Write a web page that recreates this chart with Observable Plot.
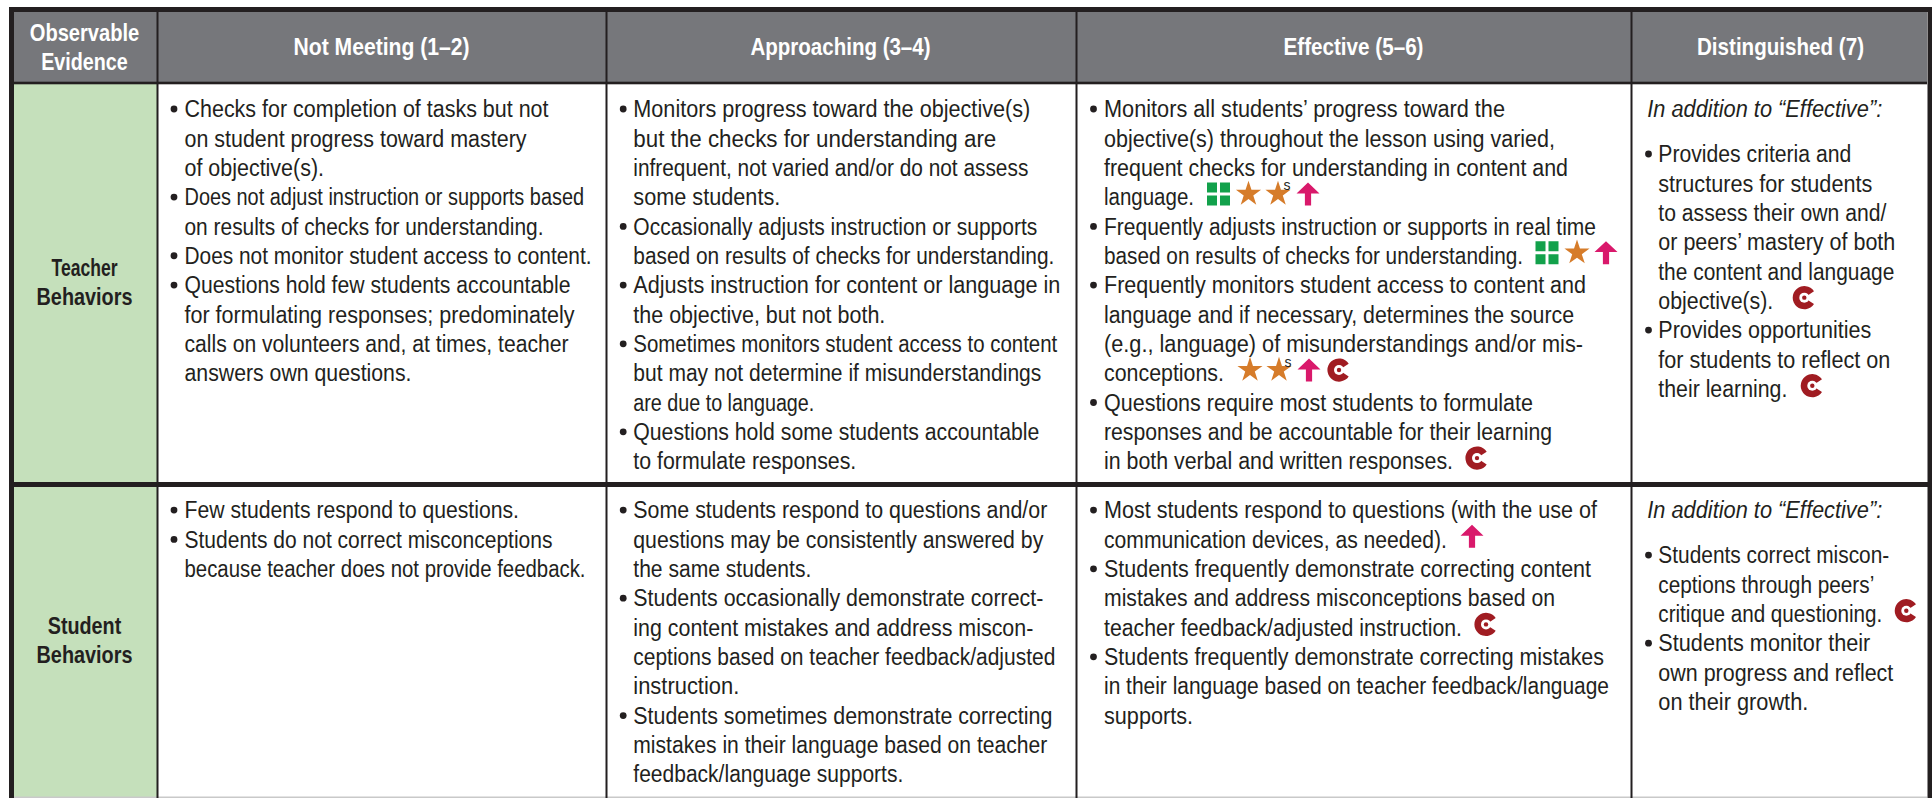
<!DOCTYPE html>
<html><head><meta charset="utf-8">
<script src="https://cdn.jsdelivr.net/npm/d3@7"></script>
<script src="https://cdn.jsdelivr.net/npm/@observablehq/plot@0.6"></script>
<style>
html,body{margin:0;padding:0;background:#fff;overflow:hidden}
svg{display:block}
</style></head><body><div id="chart"></div>
<script>
const columnHeads = ["Not Meeting (1–2)","Approaching (3–4)","Effective (5–6)","Distinguished (7)"];
const cornerHead = ["Observable","Evidence"];
const rowLabels = [["Teacher","Behaviors"],["Student","Behaviors"]];

const teacherNotMeeting = ["• Checks for completion of tasks but not","on student progress toward mastery","of objective(s).","• Does not adjust instruction or supports based","on results of checks for understanding.","• Does not monitor student access to content.","• Questions hold few students accountable","for formulating responses; predominately","calls on volunteers and, at times, teacher","answers own questions."];
const teacherApproaching = ["• Monitors progress toward the objective(s)","but the checks for understanding are","infrequent, not varied and/or do not assess","some students.","• Occasionally adjusts instruction or supports","based on results of checks for understanding.","• Adjusts instruction for content or language in","the objective, but not both.","• Sometimes monitors student access to content","but may not determine if misunderstandings","are due to language.","• Questions hold some students accountable","to formulate responses."];
const teacherEffective = ["• Monitors all students’ progress toward the","objective(s) throughout the lesson using varied,","frequent checks for understanding in content and","language.","• Frequently adjusts instruction or supports in real time","based on results of checks for understanding.","• Frequently monitors student access to content and","language and if necessary, determines the source","(e.g., language) of misunderstandings and/or mis-","conceptions.","• Questions require most students to formulate","responses and be accountable for their learning","in both verbal and written responses."];
const teacherDistinguished = ["• Provides criteria and","structures for students","to assess their own and/","or peers’ mastery of both","the content and language","objective(s).","• Provides opportunities","for students to reflect on","their learning."];
const studentNotMeeting = ["• Few students respond to questions.","• Students do not correct misconceptions","because teacher does not provide feedback."];
const studentApproaching = ["• Some students respond to questions and/or","questions may be consistently answered by","the same students.","• Students occasionally demonstrate correct-","ing content mistakes and address miscon-","ceptions based on teacher feedback/adjusted","instruction.","• Students sometimes demonstrate correcting","mistakes in their language based on teacher","feedback/language supports."];
const studentEffective = ["• Most students respond to questions (with the use of","communication devices, as needed).","• Students frequently demonstrate correcting content","mistakes and address misconceptions based on","teacher feedback/adjusted instruction.","• Students frequently demonstrate correcting mistakes","in their language based on teacher feedback/language","supports."];
const studentDistinguished = ["• Students correct miscon-","ceptions through peers’","critique and questioning.","• Students monitor their","own progress and reflect","on their growth."];
const distinguishedLead = "In addition to “Effective”:";

const bodyCells = [
  [teacherNotMeeting,teacherApproaching,teacherEffective,teacherDistinguished],
  [studentNotMeeting,studentApproaching,studentEffective,studentDistinguished]
];

/* icons: row, column, line they sit on, kind, advance from the column's text start */
const icons = [
 [0,2,3,"grid",114.5],[0,2,3,"star",144.5],[0,2,3,"starS",174],[0,2,3,"arrow",204],
 [0,2,5,"grid",443],[0,2,5,"star",473],[0,2,5,"arrow",502],
 [0,2,9,"star",146],[0,2,9,"starS",175],[0,2,9,"arrow",205],[0,2,9,"see",235],
 [0,2,12,"see",373],
 [0,3,5,"see",146],[0,3,8,"see",154],
 [1,2,1,"arrow",368],[1,2,4,"see",382],
 [1,3,2,"see",248]
];

/* layout: set widths of each typeset line (condensed face emulated by fitting) */
const bodyWidths = [
  [[364,342,139.5,399.6,359,407,386,390,384,227],
   [397,363,395,147,404,421,427,252,424,408,181,406,223],
   [401,451,464,90,492,419,482,470,479,120,429,448,349],
   [193,214,228,237,236,115,213,232,129]],
  [[334.5,368,401],
   [414,410,178,410,400,422,106,419,414,270],
   [493,343,487,451,358,500,505,89],
   [231,216,224,212,235,150]]
];
const headWidths = [176,180,140,167];
const headCenters = [381,840,1353,1780];
const cornerWidths = [109.5,86.6];
const cornerY = [33,62];
const sideWidths = [[66,96],[73.5,96]];
const sideY = [[267.5,297],[626,655]];
const colEdges = [14,157,606,1076,1631,1927];
const rowEdges = [12,82,482,798];
const textLeft = [184,632.8,1103.5,1657.8];
const bulletCenter = [173.5,622.7,1093,1648];
const firstLine = [109.2,510.3];
const lineStep = 29.35;
const leadGap = 45;
const leadWidth = 235;
const ink = "#231f20", grey = "#76777b", green = "#c5e0bb";
const fontFamily = "'Liberation Sans',sans-serif";

const lines = [], bullets = [];
bodyCells.forEach((cols,r)=>cols.forEach((ls,c)=>{
  const base = firstLine[r] + (c===3 ? leadGap : 0);
  ls.forEach((s,i)=>{
    const b = s.startsWith("• ");
    lines.push({x:textLeft[c], y:base+i*lineStep, text:b?s.slice(2):s, w:bodyWidths[r][c][i]});
    if(b) bullets.push({x:bulletCenter[c], y:base+i*lineStep-0.7});
  });
}));
const leads = firstLine.map(y=>({x:bulletCenter[3]-1.3,y,text:distinguishedLead,w:leadWidth}));
const iconPts = icons.map(([r,c,l,kind,dx])=>({
  x:textLeft[c]+dx,
  y:firstLine[r]+(c===3?leadGap:0)+l*lineStep-3.8,
  kind
}));

const heads = columnHeads.map((t,i)=>({x:headCenters[i],y:46.5,text:t,w:headWidths[i]}));
cornerHead.forEach((t,i)=>heads.push({x:84,y:cornerY[i],text:t,w:cornerWidths[i]}));
const sideLabels = rowLabels.flatMap((ls,r)=>ls.map((t,i)=>({x:84,y:sideY[r][i],text:t,w:sideWidths[r][i]})));

const symArrow = {draw(ctx,size){const r=Math.sqrt(size/Math.PI);
  ctx.moveTo(0,-r);ctx.lineTo(r,-r*0.05);ctx.lineTo(r*0.27,-r*0.05);ctx.lineTo(r*0.27,r);ctx.lineTo(-r*0.27,r);ctx.lineTo(-r*0.27,-r*0.05);ctx.lineTo(-r,-r*0.05);ctx.closePath();}};
const symSee = {draw(ctx,size){const r=Math.sqrt(size/Math.PI),a=0.58;
  ctx.moveTo(0,0);
  ctx.lineTo(r*Math.cos(a),-r*Math.sin(a));
  ctx.arc(0,0,r,-a,a,true);
  ctx.closePath();}};
const symGrid = {draw(ctx,size){const r=Math.sqrt(size/Math.PI),g=r*0.13;
  for(const[sx,sy]of[[-1,-1],[1,-1],[-1,1],[1,1]]){
    const x0=sx<0?-r:g,y0=sy<0?-r:g;
    ctx.rect(x0,y0,r-g,r-g);
  }}};

const starPts = iconPts.filter(d=>d.kind==="star"||d.kind==="starS");
const seePts = iconPts.filter(d=>d.kind==="see");

const plot = Plot.plot({
  width:1932,height:798,margin:0,
  x:{type:"linear",domain:[0,1932],range:[0,1932],axis:null},
  y:{type:"linear",domain:[0,798],range:[0,798],axis:null},
  style:{background:"#fff",fontFamily},
  marks:[
    Plot.rect([0],{x1:()=>colEdges[0],x2:()=>colEdges[5],y1:()=>rowEdges[0],y2:()=>rowEdges[1],fill:grey}),
    Plot.rect([0,1],{x1:()=>colEdges[0],x2:()=>colEdges[1],y1:(d)=>rowEdges[d+1]+(d?5:2),y2:(d)=>rowEdges[d+2],fill:green}),
    Plot.rect([0],{x1:()=>9,x2:()=>14,y1:()=>7,y2:()=>798,fill:ink}),
    Plot.rect([0],{x1:()=>1927.5,x2:()=>1932,y1:()=>7,y2:()=>798,fill:ink}),
    Plot.rect([0],{x1:()=>9,x2:()=>1932,y1:()=>7,y2:()=>12,fill:ink}),
    Plot.rect([0],{x1:()=>9,x2:()=>1932,y1:()=>482,y2:()=>487,fill:ink}),
    Plot.rect([0],{x1:()=>14,x2:()=>1927,y1:()=>81.7,y2:()=>84.3,fill:ink}),
    Plot.rect([0],{x1:()=>14,x2:()=>1927,y1:()=>796.5,y2:()=>798,fill:"#c9c9c9"}),
    Plot.ruleX(colEdges.slice(1,5),{y1:7,y2:798,stroke:ink,strokeWidth:2}),
    Plot.text(heads,{x:"x",y:"y",text:"text",fill:"#fff",fontWeight:"bold",fontSize:24,fontFamily}),
    Plot.text(sideLabels,{x:"x",y:"y",text:"text",fill:ink,fontWeight:"bold",fontSize:24,fontFamily}),
    Plot.text(lines,{x:"x",y:"y",text:"text",fill:ink,fontSize:23.5,textAnchor:"start",fontFamily}),
    Plot.text(leads,{x:"x",y:"y",text:"text",fill:ink,fontSize:23.5,fontStyle:"italic",textAnchor:"start",fontFamily}),
    Plot.dot(bullets,{x:"x",y:"y",r:3.4,fill:ink,stroke:null}),
    Plot.dot(iconPts.filter(d=>d.kind==="grid"),{x:"x",y:"y",r:11.5,symbol:symGrid,fill:"#12a14b",stroke:null}),
    Plot.dot(starPts,{x:"x",y:"y",r:7.9,symbol:"star",fill:"#d67c2a",stroke:null}),
    Plot.text(iconPts.filter(d=>d.kind==="starS"),{x:"x",y:"y",text:()=>"s",dx:9,dy:-8,fontSize:14,fill:ink,fontFamily}),
    Plot.dot(iconPts.filter(d=>d.kind==="arrow"),{x:"x",y:"y",r:11.5,symbol:symArrow,fill:"#d9196b",stroke:null}),
    Plot.dot(seePts,{x:"x",y:"y",r:11.6,symbol:symSee,fill:"#a01c22",stroke:null}),
    Plot.dot(seePts,{x:"x",y:"y",r:5,fill:"#fff",stroke:null}),
    Plot.dot(seePts,{x:"x",y:"y",r:2.2,fill:"#a01c22",stroke:null})
  ]
});
document.getElementById("chart").append(plot);
/* squeeze each line to its set width so the regular face reads as the condensed one */
const textGroups = plot.querySelectorAll('g[aria-label="text"]');
[heads,sideLabels,lines,leads].forEach((data,g)=>{
  textGroups[g].querySelectorAll("text").forEach((el,i)=>{
    el.setAttribute("textLength",data[i].w);
    el.setAttribute("lengthAdjust","spacingAndGlyphs");
  });
});
</script></body></html>
